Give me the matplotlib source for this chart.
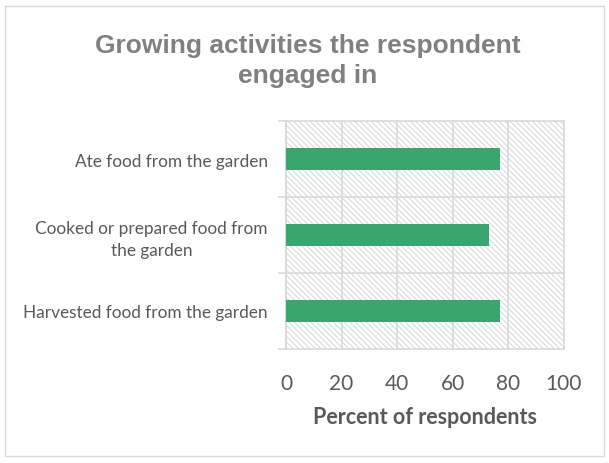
import matplotlib
matplotlib.use("Agg")
import matplotlib.pyplot as plt
from matplotlib.patches import Rectangle

# Chart data (top-to-bottom order as displayed)
categories = [
    "Ate food from the garden",
    "Cooked or prepared food from\nthe garden",
    "Harvested food from the garden",
]
percent = [77, 73, 77]
x_ticks = [0, 20, 40, 60, 80, 100]

W, H = 609, 464
fig = plt.figure(figsize=(W / 100, H / 100), dpi=100)
fig.patch.set_facecolor("white")

# light outer frame around the chart
fig.patches.append(Rectangle((5 / W, 7 / H), 599 / W, 450 / H,
                             transform=fig.transFigure, fill=False,
                             edgecolor="#d9d9d9", linewidth=1.0))

plt.rcParams["hatch.linewidth"] = 0.5
ax = fig.add_axes([286 / W, 1 - 350 / H, 277.5 / W, 228 / H])

# hatched plot-area background
ax.patch.set_facecolor("white")
ax.patch.set_hatch("\\" * 6)
ax.patch.set_edgecolor("#c8c8c8")
ax.patch.set_linewidth(0)

n = len(categories)
ypos = list(range(n))[::-1]
ax.barh(ypos, percent, height=0.29, color="#38a66e", zorder=3)

ax.set_xlim(0, 100)
ax.set_ylim(-0.5, n - 0.5)

# gridlines
for xv in x_ticks:
    ax.axvline(xv, color="#d9d9d9", linewidth=1.2, zorder=2, clip_on=False)
for yb in [0.5, 1.5, n - 0.5]:
    ax.axhline(yb, color="#d9d9d9", linewidth=1.2, zorder=2, clip_on=False)

for s in ["top", "right"]:
    ax.spines[s].set_visible(False)
ax.spines["left"].set_color("#d9d9d9")
ax.spines["bottom"].set_color("#d9d9d9")
ax.spines["left"].set_linewidth(1.2)
ax.spines["bottom"].set_linewidth(1.2)
ax.spines["left"].set_zorder(2)

ax.set_xticks(x_ticks)
ax.set_xticklabels([str(v) for v in x_ticks], fontsize=15, color="#595959",
                   family="Lato")
ax.tick_params(axis="x", length=0, pad=17)

# category ticks at the boundaries, labels at bar centres
ax.set_yticks([-0.5, 0.5, 1.5, 2.5], minor=False)
ax.set_yticklabels([])
ax.tick_params(axis="y", which="major", length=6, color="#d9d9d9", width=1.2)
ax.set_yticks(ypos, minor=True)
ax.set_yticklabels(categories, minor=True, fontsize=12.4, color="#595959",
                   family="Lato")
ax.tick_params(axis="y", which="minor", length=0, pad=13)
for t in ax.get_yticklabels(minor=True):
    t.set_multialignment("center")
    t.set_linespacing(1.45)

ax.set_xlabel("Percent of respondents", fontsize=15.5, fontweight="bold",
              color="#595959", family="Lato", labelpad=10)

fig.text(0.505, 1 - 61 / H, "Growing activities the respondent\nengaged in",
         ha="center", va="center", fontsize=19, fontweight="bold",
         color="#808080", family="Liberation Sans", linespacing=1.3)

fig.savefig("out.png", dpi=100)
